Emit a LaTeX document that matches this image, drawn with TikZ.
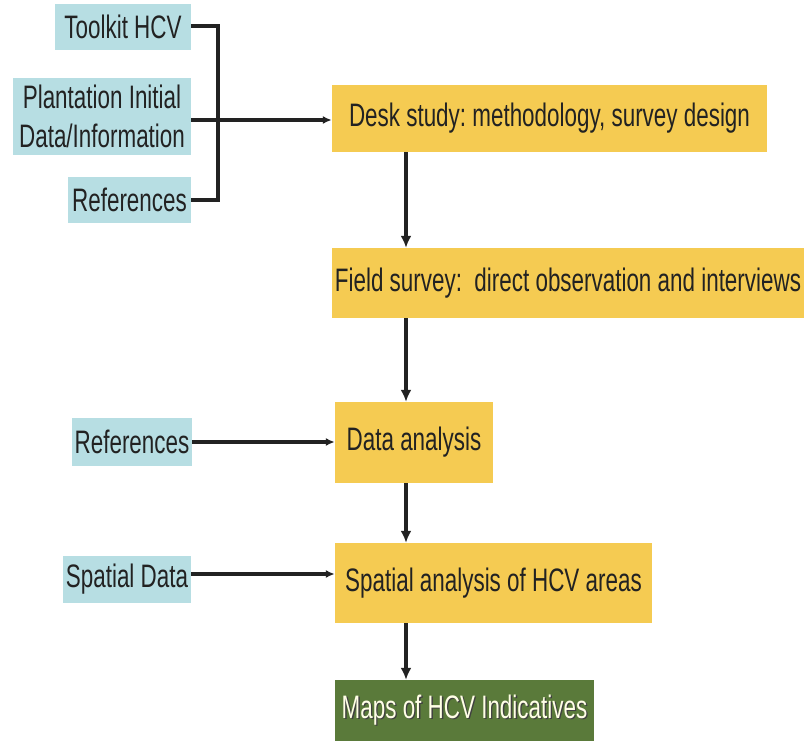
\documentclass[tikz,border=0pt]{standalone}
\usepackage{fontspec}
\setmainfont{Liberation Sans}[FakeStretch=0.69]
\usetikzlibrary{arrows.meta,calc}
\definecolor{inblue}{HTML}{B7DEE3}
\definecolor{stepyel}{HTML}{F5CB52}
\definecolor{outgreen}{HTML}{5A7A3A}
\definecolor{txt}{HTML}{222222}
\newcommand{\shadowtxt}[1]{\makebox[0pt][l]{\raisebox{-1.3pt}{\hspace{1.3pt}\color{black!75}#1}}{\color{white!90!yellow}#1}}
\frenchspacing
\begin{document}
\begin{tikzpicture}[x=1pt,y=-1pt,
  every node/.style={inner sep=0pt,font=\fontsize{32.5}{36}\selectfont,text=txt},
  inbox/.style={fill=inblue,draw=none,align=center},
  stepbox/.style={fill=stepyel,draw=none},
  outbox/.style={fill=outgreen,draw=none},
  conn/.style={line width=3.2pt,draw=txt},
  arr/.style={conn,-{Latex[length=12pt,width=11pt]}},
  harr/.style={conn,-{Latex[length=9pt,width=8pt]}}]
\useasboundingbox (0,0) rectangle (804,752);
\fill[white] (0,0) rectangle (804,752);
% input boxes
\node[inbox,minimum width=136pt,minimum height=46pt] (tk) at (123,27) {Toolkit HCV};
\node[inbox,minimum width=178pt,minimum height=77pt] (pl) at (102,116.5) {Plantation Initial\\[3pt]Data/Information};
\node[inbox,minimum width=123pt,minimum height=46pt] (rf1) at (129.5,200) {References};
\node[inbox,minimum width=120pt,minimum height=48pt] (rf2) at (132,442) {References};
\node[inbox,minimum width=128pt,minimum height=47pt] (sd) at (127,579.5) {Spatial Data};
% process boxes
\node[stepbox,minimum width=435pt,minimum height=67pt] (desk) at (549.5,118.5) {Desk study: methodology, survey design};
\node[stepbox,minimum width=472pt,minimum height=70pt] (field) at (568,283) {Field survey:\ \ direct observation and interviews};
\node[stepbox,minimum width=158pt,minimum height=81pt] (data) at (414,442.5) {Data analysis};
\node[stepbox,minimum width=317pt,minimum height=80pt] (spat) at (493.5,583) {Spatial analysis of HCV areas};
\node[outbox,minimum width=259pt,minimum height=61pt] (maps) at (464.5,710.5) {\shadowtxt{Maps of HCV Indicatives}};
% connectors
\coordinate (bx) at (218,0);
\coordinate (col) at (406,0);
\draw[conn] ([yshift=1pt]tk.east) -| (bx |- rf1.east) -- (rf1.east);
\draw[harr] ([yshift=-3.5pt]pl.east) -- ([yshift=-3.5pt]pl.east -| desk.west);
\draw[arr] (desk.south -| col) -- (field.north -| col);
\draw[arr] (field.south -| col) -- (data.north -| col);
\draw[arr] (data.south -| col) -- (spat.north -| col);
\draw[arr] (spat.south -| col) -- (maps.north -| col);
\draw[harr] (rf2.east) -- (data.west |- rf2.east);
\draw[harr] ([yshift=5.5pt]sd.east) -- ([yshift=5.5pt]sd.east -| spat.west);
\end{tikzpicture}
\end{document}
